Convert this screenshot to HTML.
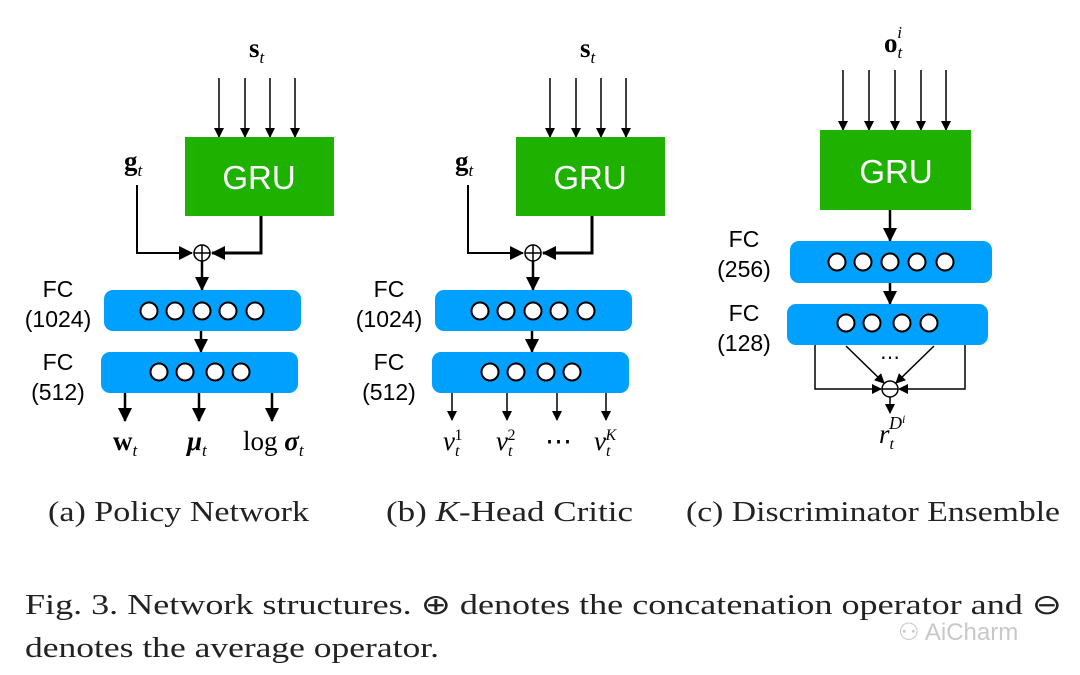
<!DOCTYPE html>
<html><head><style>body{margin:0;background:#fff}svg{display:block}</style></head><body>
<svg width="1080" height="675" viewBox="0 0 1080 675" xmlns="http://www.w3.org/2000/svg">
<defs>
<marker id="a" markerWidth="10" markerHeight="10" refX="9" refY="5" orient="auto" markerUnits="userSpaceOnUse"><path d="M0,0 L10,5 L0,10 z" fill="#000"/></marker>
<marker id="b" markerWidth="14" markerHeight="14" refX="13" refY="7" orient="auto" markerUnits="userSpaceOnUse"><path d="M0,0 L14,7 L0,14 z" fill="#000"/></marker>
</defs>
<g font-family="Liberation Sans, sans-serif" fill="none" stroke="#000">
<!-- Panel A -->
<g stroke-width="1.5" marker-end="url(#a)"><line x1="219" y1="78" x2="219" y2="137"/><line x1="245" y1="78" x2="245" y2="137"/><line x1="270" y1="78" x2="270" y2="137"/><line x1="295" y1="78" x2="295" y2="137"/></g>
<rect x="185" y="137" width="149" height="79" fill="#1eb100" stroke="none"/>
<polyline points="137,185 137,253 192,253" stroke-width="2" marker-end="url(#b)"/>
<polyline points="261,216 261,253 212,253" stroke-width="3" marker-end="url(#b)"/>
<circle cx="202" cy="253" r="8" stroke-width="1.5" fill="#fff"/><line x1="194" y1="253" x2="210" y2="253" stroke-width="1.5"/><line x1="202" y1="245" x2="202" y2="261" stroke-width="1.5"/>
<line x1="202" y1="261" x2="202" y2="290" stroke-width="2.5" marker-end="url(#b)"/>
<rect x="104" y="290" width="197" height="41" rx="9" fill="#00a0ff" stroke="none"/>
<line x1="201" y1="331" x2="201" y2="352" stroke-width="2.5" marker-end="url(#b)"/>
<rect x="101" y="352" width="197" height="41" rx="9" fill="#00a0ff" stroke="none"/>
<g fill="#fff" stroke-width="2"><circle cx="149" cy="311" r="8.5"/><circle cx="175" cy="311" r="8.5"/><circle cx="202" cy="311" r="8.5"/><circle cx="228" cy="311" r="8.5"/><circle cx="255" cy="311" r="8.5"/>
<circle cx="159" cy="372" r="8.5"/><circle cx="185" cy="372" r="8.5"/><circle cx="215" cy="372" r="8.5"/><circle cx="241" cy="372" r="8.5"/></g>
<g stroke-width="2.5" marker-end="url(#b)"><line x1="125" y1="393" x2="125" y2="421"/><line x1="199" y1="393" x2="199" y2="421"/><line x1="272" y1="393" x2="272" y2="421"/></g>
<!-- Panel B -->
<g stroke-width="1.5" marker-end="url(#a)"><line x1="550" y1="78" x2="550" y2="137"/><line x1="576" y1="78" x2="576" y2="137"/><line x1="601" y1="78" x2="601" y2="137"/><line x1="626" y1="78" x2="626" y2="137"/></g>
<rect x="516" y="137" width="149" height="79" fill="#1eb100" stroke="none"/>
<polyline points="468,185 468,253 523,253" stroke-width="2" marker-end="url(#b)"/>
<polyline points="592,216 592,253 543,253" stroke-width="3" marker-end="url(#b)"/>
<circle cx="533" cy="253" r="8" stroke-width="1.5" fill="#fff"/><line x1="525" y1="253" x2="541" y2="253" stroke-width="1.5"/><line x1="533" y1="245" x2="533" y2="261" stroke-width="1.5"/>
<line x1="533" y1="261" x2="533" y2="290" stroke-width="2.5" marker-end="url(#b)"/>
<rect x="435" y="290" width="197" height="41" rx="9" fill="#00a0ff" stroke="none"/>
<line x1="532" y1="331" x2="532" y2="352" stroke-width="2.5" marker-end="url(#b)"/>
<rect x="432" y="352" width="197" height="41" rx="9" fill="#00a0ff" stroke="none"/>
<g fill="#fff" stroke-width="2"><circle cx="480" cy="311" r="8.5"/><circle cx="506" cy="311" r="8.5"/><circle cx="533" cy="311" r="8.5"/><circle cx="559" cy="311" r="8.5"/><circle cx="586" cy="311" r="8.5"/>
<circle cx="490" cy="372" r="8.5"/><circle cx="516" cy="372" r="8.5"/><circle cx="546" cy="372" r="8.5"/><circle cx="572" cy="372" r="8.5"/></g>
<g stroke-width="1.5" marker-end="url(#a)"><line x1="452" y1="393" x2="452" y2="420"/><line x1="507" y1="393" x2="507" y2="420"/><line x1="557" y1="393" x2="557" y2="420"/><line x1="606" y1="393" x2="606" y2="420"/></g>
<!-- Panel C -->
<g stroke-width="1.5" marker-end="url(#a)"><line x1="843" y1="70" x2="843" y2="130"/><line x1="869" y1="70" x2="869" y2="130"/><line x1="895" y1="70" x2="895" y2="130"/><line x1="921" y1="70" x2="921" y2="130"/><line x1="946" y1="70" x2="946" y2="130"/></g>
<rect x="820" y="130" width="151" height="80" fill="#1eb100" stroke="none"/>
<line x1="890" y1="210" x2="890" y2="241" stroke-width="2.5" marker-end="url(#b)"/>
<rect x="790" y="241" width="202" height="42" rx="9" fill="#00a0ff" stroke="none"/>
<line x1="890" y1="283" x2="890" y2="304" stroke-width="2.5" marker-end="url(#b)"/>
<rect x="787" y="304" width="201" height="41" rx="9" fill="#00a0ff" stroke="none"/>
<g fill="#fff" stroke-width="2"><circle cx="837" cy="262" r="8.5"/><circle cx="863" cy="262" r="8.5"/><circle cx="890" cy="262" r="8.5"/><circle cx="917" cy="262" r="8.5"/><circle cx="945" cy="262" r="8.5"/>
<circle cx="846" cy="323" r="8.5"/><circle cx="872" cy="323" r="8.5"/><circle cx="902" cy="323" r="8.5"/><circle cx="929" cy="323" r="8.5"/></g>
<g stroke-width="1.5" marker-end="url(#a)"><polyline points="815,345 815,389 881,389"/><polyline points="965,345 965,389 899,389"/><line x1="846" y1="346" x2="884" y2="383"/><line x1="934" y1="346" x2="896" y2="383"/><line x1="890" y1="397" x2="890" y2="413"/></g>
<circle cx="890" cy="389" r="8" stroke-width="1.5" fill="#fff"/><line x1="882" y1="389" x2="898" y2="389" stroke-width="1.5"/>
</g>
<g font-family="Liberation Sans, sans-serif" font-size="23" fill="#000" text-anchor="middle">
<text x="58" y="297">FC</text><text x="58" y="327">(1024)</text><text x="58" y="370">FC</text><text x="58" y="400">(512)</text>
<text x="389" y="297">FC</text><text x="389" y="327">(1024)</text><text x="389" y="370">FC</text><text x="389" y="400">(512)</text>
<text x="744" y="247">FC</text><text x="744" y="277">(256)</text><text x="744" y="321">FC</text><text x="744" y="351">(128)</text>
<g font-size="33" fill="#fff"><text x="259" y="189">GRU</text><text x="590" y="189">GRU</text><text x="896" y="183">GRU</text></g>
</g>
<g font-family="Liberation Serif, serif" font-size="27" fill="#000">
<text x="249" y="57" font-weight="bold">s<tspan font-size="17" font-style="italic" font-weight="normal" dy="6">t</tspan></text>
<text x="580" y="57" font-weight="bold">s<tspan font-size="17" font-style="italic" font-weight="normal" dy="6">t</tspan></text>
<text x="124" y="170" font-weight="bold">g<tspan font-size="17" font-style="italic" font-weight="normal" dy="6">t</tspan></text>
<text x="455" y="170" font-weight="bold">g<tspan font-size="17" font-style="italic" font-weight="normal" dy="6">t</tspan></text>
<text x="884" y="52" font-weight="bold">o<tspan font-size="17" font-style="italic" font-weight="normal" dy="6">t</tspan><tspan font-size="17" font-style="italic" font-weight="normal" dx="-5" dy="-20">i</tspan></text>
<text x="113" y="450" font-weight="bold">w<tspan font-size="17" font-style="italic" font-weight="normal" dy="6">t</tspan></text>
<text x="187" y="450" font-weight="bold" font-style="italic">μ<tspan font-size="17" font-weight="normal" dy="6">t</tspan></text>
<text x="243" y="450">log <tspan font-weight="bold" font-style="italic">σ</tspan><tspan font-size="17" font-style="italic" dy="6">t</tspan></text>
<g font-style="italic"><text x="443" y="450">v<tspan font-size="16" dy="6">t</tspan><tspan font-size="16" font-style="normal" dx="-5" dy="-16">1</tspan></text>
<text x="496" y="450">v<tspan font-size="16" dy="6">t</tspan><tspan font-size="16" font-style="normal" dx="-5" dy="-16">2</tspan></text>
<text x="545" y="450" font-style="normal">⋯</text>
<text x="594" y="450">v<tspan font-size="16" dy="6">t</tspan><tspan font-size="16" dx="-5" dy="-16">K</tspan></text>
<text x="879" y="443">r<tspan font-size="16" dy="6">t</tspan><tspan font-size="18" dx="-5" dy="-20">D<tspan font-size="12" dy="-6">i</tspan></tspan></text></g>
<text x="880" y="364" font-size="20">⋯</text>
</g>
<g font-family="Liberation Serif, serif" font-size="29" fill="#222">
<text x="48" y="521" textLength="261" lengthAdjust="spacingAndGlyphs">(a) Policy Network</text>
<text x="386" y="521" textLength="247" lengthAdjust="spacingAndGlyphs">(b) <tspan font-style="italic">K</tspan>-Head Critic</text>
<text x="686" y="521" textLength="374" lengthAdjust="spacingAndGlyphs">(c) Discriminator Ensemble</text>
<g font-size="28"><text x="25" y="614" textLength="1037" lengthAdjust="spacingAndGlyphs">Fig. 3.  Network structures. ⊕ denotes the concatenation operator and ⊖</text>
<text x="25" y="657" textLength="414" lengthAdjust="spacingAndGlyphs">denotes the average operator.</text></g>
<text x="898" y="640" font-family="Liberation Sans, sans-serif" font-size="24" fill="#c8c8c8">⚇ AiCharm</text>
</g>
</svg>
</body></html>
